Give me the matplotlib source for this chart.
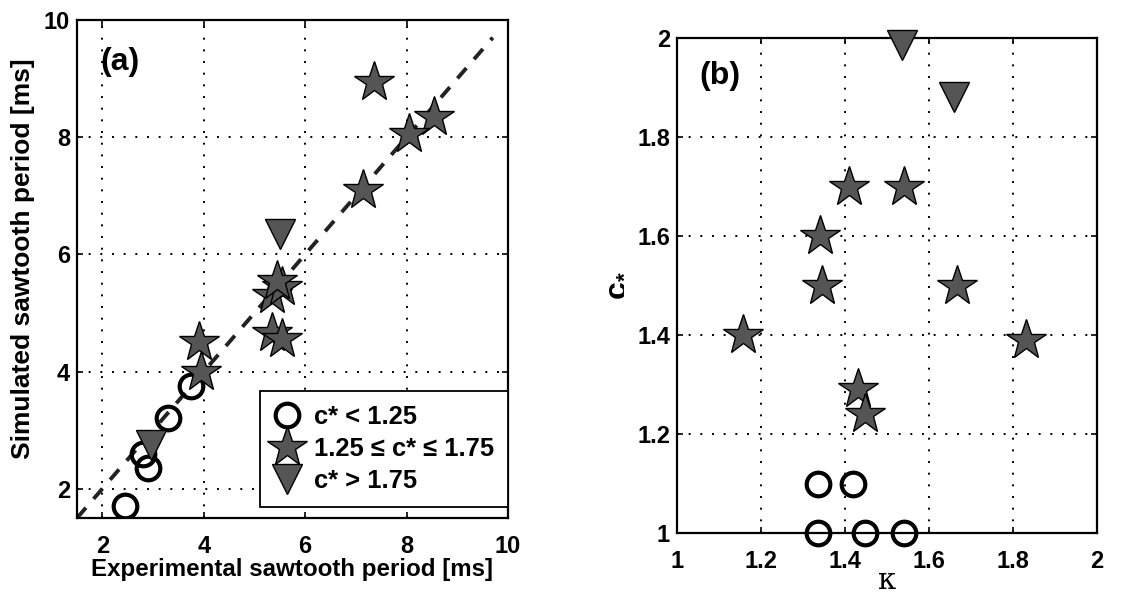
import numpy as np
import matplotlib
matplotlib.use("Agg")
import matplotlib.pyplot as plt
from matplotlib.lines import Line2D

plt.rcParams['font.family'] = ['Liberation Sans', 'DejaVu Sans']
plt.rcParams['font.weight'] = 'bold'
plt.rcParams['mathtext.fontset'] = 'custom'
plt.rcParams['mathtext.bf'] = 'Liberation Sans:bold'
plt.rcParams['mathtext.rm'] = 'Liberation Sans:bold'

# panel (a): experimental vs simulated sawtooth period [ms]
exp_low = [3.75, 3.3, 2.8, 2.9, 2.45]
sim_low = [3.75, 3.2, 2.6, 2.35, 1.7]
exp_mid = [7.35, 8.55, 8.05, 7.15, 5.35, 5.55, 5.45, 5.35, 5.55, 3.9, 3.95]
sim_mid = [8.95, 8.35, 8.05, 7.1, 5.3, 5.45, 5.55, 4.65, 4.55, 4.5, 4.0]
exp_high = [5.5, 2.95]
sim_high = [6.35, 2.75]

# panel (b): kappa vs c*
kap_low = [1.335, 1.42, 1.335, 1.448, 1.54]
c_low = [1.1, 1.1, 1.0, 1.0, 1.0]
kap_mid = [1.41, 1.54, 1.34, 1.345, 1.667, 1.157, 1.83, 1.43, 1.448]
c_mid = [1.70, 1.70, 1.60, 1.50, 1.50, 1.40, 1.39, 1.29, 1.24]
kap_high = [1.536, 1.66]
c_high = [1.985, 1.88]

labels = [r'c* < 1.25', u'1.25 \u2264 c* \u2264 1.75', r'c* > 1.75']

star_col = '#555555'
circ = dict(marker='o', ms=17, mfc='none', mec='black', mew=3.0, ls='none')
star = dict(marker='*', ms=30, mfc=star_col, mec='black', mew=1.0, ls='none')
tri = dict(marker='v', ms=21, mfc=star_col, mec='black', mew=1.0, ls='none')

fig = plt.figure(figsize=(11.43, 5.96), dpi=100)
ax1 = fig.add_axes([0.0674, 0.1309, 0.377, 0.8355])
ax2 = fig.add_axes([0.5923, 0.1057, 0.3675, 0.8305])

for ax in (ax1, ax2):
    ax.grid(True, color='black', linestyle=(0, (1, 5)), linewidth=1.4)
    ax.tick_params(direction='in', length=4, width=1.2, labelsize=17,
                   top=True, right=True)
    ax.tick_params(axis='x', pad=12)
    ax.tick_params(axis='y', pad=5)
    for s in ax.spines.values():
        s.set_linewidth(1.6)

# (a)
diag = np.array([1.5, 9.7])
ax1.plot(diag, diag, color='#222222', lw=2.8, dashes=(3.5, 3), zorder=2)
ax1.plot(exp_low, sim_low, zorder=3, **circ)
ax1.plot(exp_mid, sim_mid, zorder=4, **star)
ax1.plot(exp_high, sim_high, zorder=4, **tri)
ax1.set_xlim(1.5, 10)
ax1.set_ylim(1.5, 10)
ax1.set_xticks([2, 4, 6, 8, 10])
ax1.set_yticks([2, 4, 6, 8, 10])
ax1.set_xlabel('Experimental sawtooth period [ms]', fontsize=17.4,
               fontweight='bold', labelpad=0)
ax1.set_ylabel('Simulated sawtooth period [ms]', fontsize=19,
               fontweight='bold')
ax1.yaxis.set_label_coords(-0.097, 0.52)
ax1.text(0.1, 0.916, '(a)', transform=ax1.transAxes, fontsize=23,
         ha='center', va='center')

handles = [Line2D([], [], **circ), Line2D([], [], **star),
           Line2D([], [], **tri)]
leg = ax1.legend(handles, labels, loc='lower right',
                 bbox_to_anchor=(1.0, 0.022), borderaxespad=0,
                 fontsize=18.4, frameon=True, fancybox=False,
                 edgecolor='black', framealpha=1, handlelength=1.0,
                 handletextpad=0.55, labelspacing=0.31, borderpad=0.55)
leg.get_frame().set_linewidth(1.3)
leg.set_zorder(5)

# (b)
ax2.plot(kap_low, c_low, clip_on=False, zorder=3, **circ)
ax2.plot(kap_mid, c_mid, zorder=4, **star)
ax2.plot(kap_high, c_high, clip_on=False, zorder=4, **tri)
ax2.set_xlim(1, 2)
ax2.set_ylim(1, 2)
ax2.set_xticks([1, 1.2, 1.4, 1.6, 1.8, 2])
ax2.set_xticklabels(['1', '1.2', '1.4', '1.6', '1.8', '2'])
ax2.set_yticks([1, 1.2, 1.4, 1.6, 1.8, 2])
ax2.set_yticklabels(['1', '1.2', '1.4', '1.6', '1.8', '2'])
ax2.set_xlabel(u'\u03ba', fontsize=21, family='DejaVu Serif',
               fontweight='normal', labelpad=-4)
ax2.set_ylabel(r'c$_{*}$', fontsize=23, fontweight='bold', labelpad=6)
ax2.text(0.102, 0.923, '(b)', transform=ax2.transAxes, fontsize=23,
         ha='center', va='center')

fig.savefig('out.png', dpi=100)
